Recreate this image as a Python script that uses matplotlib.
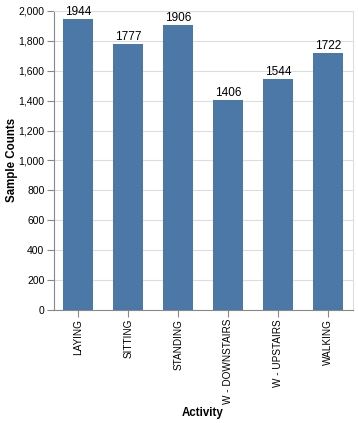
import matplotlib
matplotlib.use("Agg")
import matplotlib.pyplot as plt
from matplotlib.ticker import FuncFormatter, MultipleLocator

# Data
activities = ["LAYING", "SITTING", "STANDING", "W - DOWNSTAIRS", "W - UPSTAIRS", "WALKING"]
counts = [1944, 1777, 1906, 1406, 1544, 1722]

plt.rcParams["font.family"] = ["Liberation Sans", "DejaVu Sans"]

fig = plt.figure(figsize=(3.58, 4.23), dpi=100)
ax = fig.add_axes([53.5 / 358, (423 - 310) / 423, 299.5 / 358, 299 / 423])

x = list(range(len(activities)))
ax.bar(x, counts, width=0.6, color="#4c78a8", zorder=3)
for xi, c in zip(x, counts):
    ax.text(xi, c + 6, str(c), ha="center", va="bottom", fontsize=8.5, color="black")

ax.set_xlim(-0.5, len(activities) - 0.5)
ax.set_ylim(0, 2000)
ax.yaxis.set_major_locator(MultipleLocator(200))
ax.yaxis.set_major_formatter(FuncFormatter(lambda v, p: f"{int(v):,}"))
ax.set_xticks(x)
ax.set_xticklabels(activities, rotation=90, fontsize=7.2)
ax.tick_params(axis="y", labelsize=7.5)
ax.tick_params(length=5, color="#888888", width=0.8, pad=1.5)

ax.grid(axis="y", color="#dddddd", linewidth=0.8, zorder=0)
for side in ["top", "right"]:
    ax.spines[side].set_color("#dddddd")
for side in ["left", "bottom"]:
    ax.spines[side].set_color("#888888")

# axis titles placed where the reference puts them
fig.text(203 / 358, 1 - 413 / 423, "Activity", ha="center", va="center",
         fontsize=8.3, fontweight="bold")
fig.text(12 / 358, 1 - 160 / 423, "Sample Counts", ha="center", va="center",
         rotation=90, fontsize=8.3, fontweight="bold")

fig.savefig("out.png", dpi=100)
